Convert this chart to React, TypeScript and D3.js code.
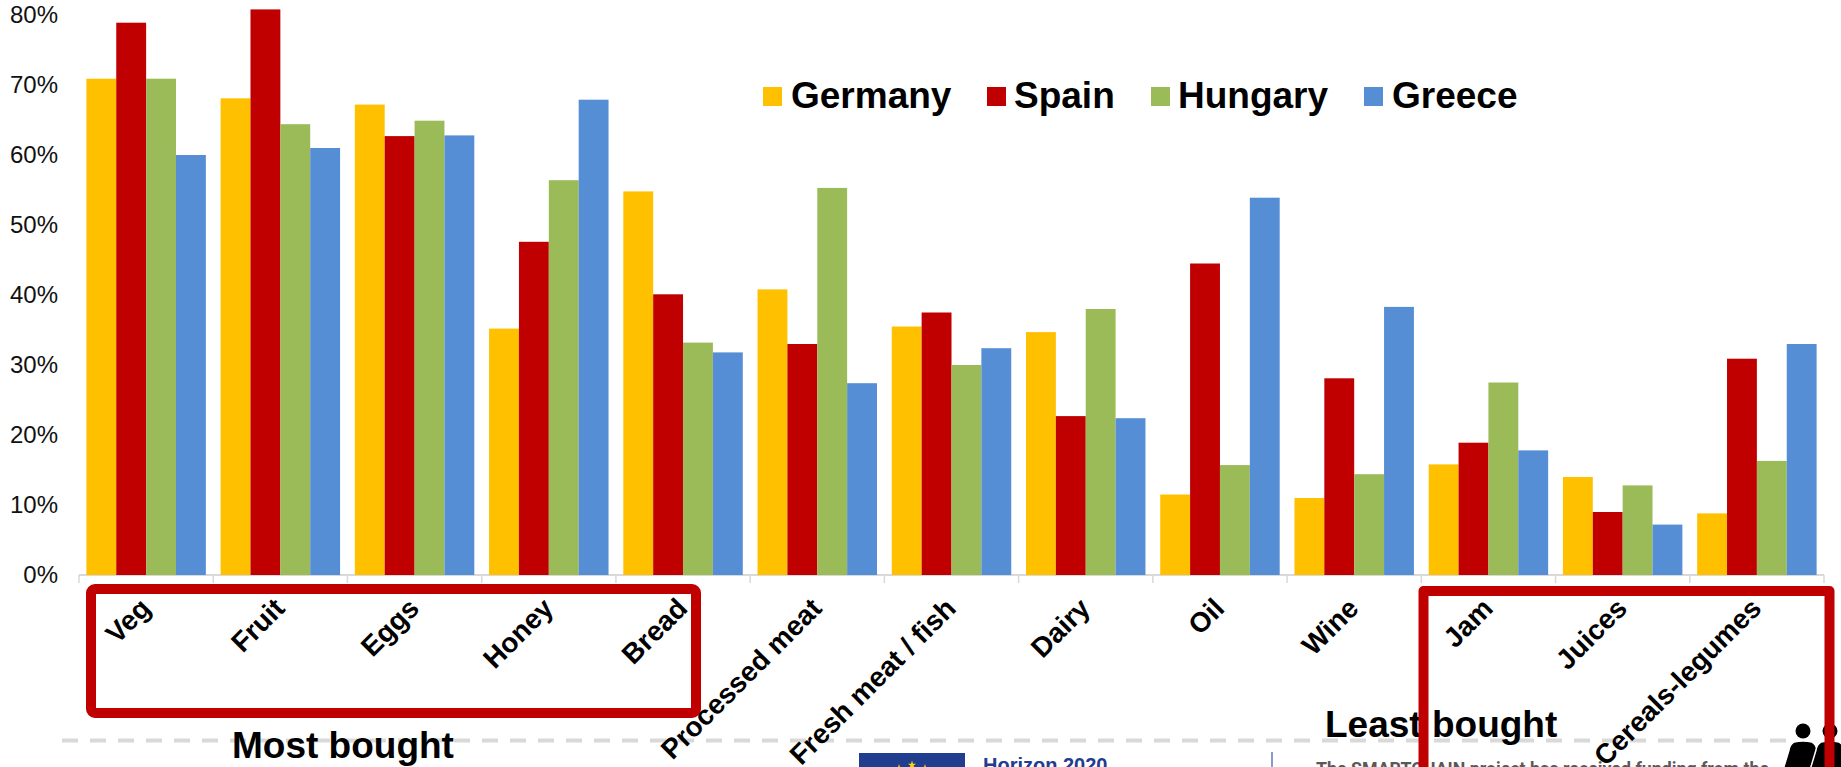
import React from "react";
import * as d3 from "d3";

const categories = ["Veg", "Fruit", "Eggs", "Honey", "Bread", "Processed meat", "Fresh meat / fish", "Dairy", "Oil", "Wine", "Jam", "Juices", "Cereals-legumes"];
const countries = ["Germany", "Spain", "Hungary", "Greece"];
const germany = [70.9, 68.1, 67.2, 35.2, 54.8, 40.8, 35.5, 34.7, 11.5, 11.0, 15.8, 14.0, 8.8];
const spain = [78.9, 80.8, 62.7, 47.6, 40.1, 33.0, 37.5, 22.7, 44.5, 28.1, 18.9, 9.0, 30.9];
const hungary = [70.9, 64.4, 64.9, 56.4, 33.2, 55.3, 30.0, 38.0, 15.7, 14.4, 27.5, 12.8, 16.3];
const greece = [60.0, 61.0, 62.8, 67.9, 31.8, 27.4, 32.4, 22.4, 53.9, 38.3, 17.8, 7.2, 33.0];
const yTicks = [0, 10, 20, 30, 40, 50, 60, 70, 80];
const seriesValues = [germany, spain, hungary, greece];
const seriesColors = ["#FFC000", "#C00000", "#9BBB59", "#558ED5"];

const legendSwatchX = [763, 987, 1151, 1364];
const legendTextX = [791, 1014, 1178, 1392];

const ARIAL = "'Liberation Sans', Arial, sans-serif";
const WIDTH = 1841;
const HEIGHT = 767;

const x0 = d3.scaleBand<string>().domain(categories).range([79, 1824]).paddingInner(0.11).paddingOuter(0.055);
const x1 = d3.scaleBand<string>().domain(countries).range([0, x0.bandwidth()]);
const y = d3.scaleLinear().domain([0, 80]).range([575, 15]);

const euStars = d3.range(12).map((i) => (i * Math.PI) / 6);
const starPath = d3.symbol().type(d3.symbolStar).size(22)() as string;

// One standing figure from the footer pictogram, drawn around its head centre.
function Person({ cx }: { cx: number }) {
  return (
    <g fill="#000">
      <circle cx={cx} cy={731} r={7.5} />
      <path
        d={`M${cx - 9},742 Q${cx},740 ${cx + 9},742 Q${cx + 13},744 ${cx + 14},750 L${cx + 20},770 L${cx - 20},770 L${cx - 14},750 Q${cx - 13},744 ${cx - 9},742 Z`}
        stroke="#fff"
        strokeWidth={1.5}
      />
    </g>
  );
}

export default function App() {
  const step = x0.step();
  const edges = d3.range(categories.length + 1).map((i) => 79 + i * (1745 / categories.length));
  return (
    <svg
      width={WIDTH}
      height={HEIGHT}
      viewBox={`0 0 ${WIDTH} ${HEIGHT}`}
      style={{ position: "absolute", left: 0, top: 0, background: "#fff", display: "block" }}
    >
      {/* Footer band */}
      <line x1={62} x2={1786} y1={740.5} y2={740.5} stroke="#d9d9d9" strokeWidth={4} strokeDasharray="16 12" />
      <rect x={859} y={753} width={106} height={30} fill="#213D8F" />
      {euStars.map((a, i) => (
        <path key={i} d={starPath} fill="#FFD500" transform={`translate(${912 + 26 * Math.sin(a)},${791 - 26 * Math.cos(a)})`} />
      ))}
      <text x={983} y={772} fontFamily={ARIAL} fontWeight={700} fontSize={20} fill="#213D8F">Horizon 2020</text>
      <line x1={1272} x2={1272} y1={752} y2={767} stroke="#5B7DB8" strokeWidth={1.5} />
      <text x={1316} y={775} fontFamily="Roboto, sans-serif" fontWeight={700} fontSize={17.8} fill="#595959">
        The SMARTCHAIN project has received funding from the
      </text>
      <Person cx={1803} />
      <Person cx={1830} />

      {/* Value axis labels */}
      {yTicks.map((t) => (
        <text key={t} x={58} y={y(t)} dy="0.35em" textAnchor="end" fontFamily={ARIAL} fontSize={24} fill="#111">
          {t}%
        </text>
      ))}

      {/* Category axis */}
      <line x1={79} x2={1824} y1={575} y2={575} stroke="#d9d9d9" strokeWidth={2} />
      {edges.map((e, i) => (
        <line key={i} x1={e} x2={e} y1={575} y2={583} stroke="#d9d9d9" strokeWidth={1.5} />
      ))}

      {/* Grouped bars */}
      {categories.map((c, ci) => (
        <g key={c} transform={`translate(${x0(c)},0)`}>
          {countries.map((s, si) => (
            <rect
              key={s}
              x={x1(s)}
              y={y(seriesValues[si][ci])}
              width={x1.bandwidth()}
              height={y(0) - y(seriesValues[si][ci])}
              fill={seriesColors[si]}
            />
          ))}
        </g>
      ))}

      {/* Left highlight box sits beneath the labels */}
      <rect x={91} y={589} width={605} height={124} rx={4} fill="none" stroke="#C00000" strokeWidth={10} />

      {/* Rotated category labels */}
      {categories.map((c) => (
        <text
          key={c}
          textAnchor="end"
          fontFamily={ARIAL}
          fontWeight={700}
          fontSize={27.8}
          fill="#000"
          transform={`translate(${(x0(c) as number) + x0.bandwidth() / 2 + step * 0.045},${610}) rotate(-45)`}
        >
          {c}
        </text>
      ))}

      {/* Legend */}
      {countries.map((s, i) => (
        <g key={s}>
          <rect x={legendSwatchX[i]} y={87} width={19} height={19} fill={seriesColors[i]} />
          <text x={legendTextX[i]} y={108} fontFamily={ARIAL} fontWeight={700} fontSize={37} fill="#000">{s}</text>
        </g>
      ))}

      {/* Group captions */}
      <text x={232} y={758} fontFamily={ARIAL} fontWeight={700} fontSize={37} fill="#000">Most bought</text>
      <text x={1325} y={737} fontFamily={ARIAL} fontWeight={700} fontSize={37} fill="#000">Least bought</text>

      {/* Right highlight box runs off the bottom edge and overlays the footer */}
      <path
        d={`M1423.5,${HEIGHT + 10} L1423.5,591 L1829.5,591 L1829.5,${HEIGHT + 10}`}
        fill="none"
        stroke="#C00000"
        strokeWidth={10}
        strokeLinejoin="round"
      />
    </svg>
  );
}
